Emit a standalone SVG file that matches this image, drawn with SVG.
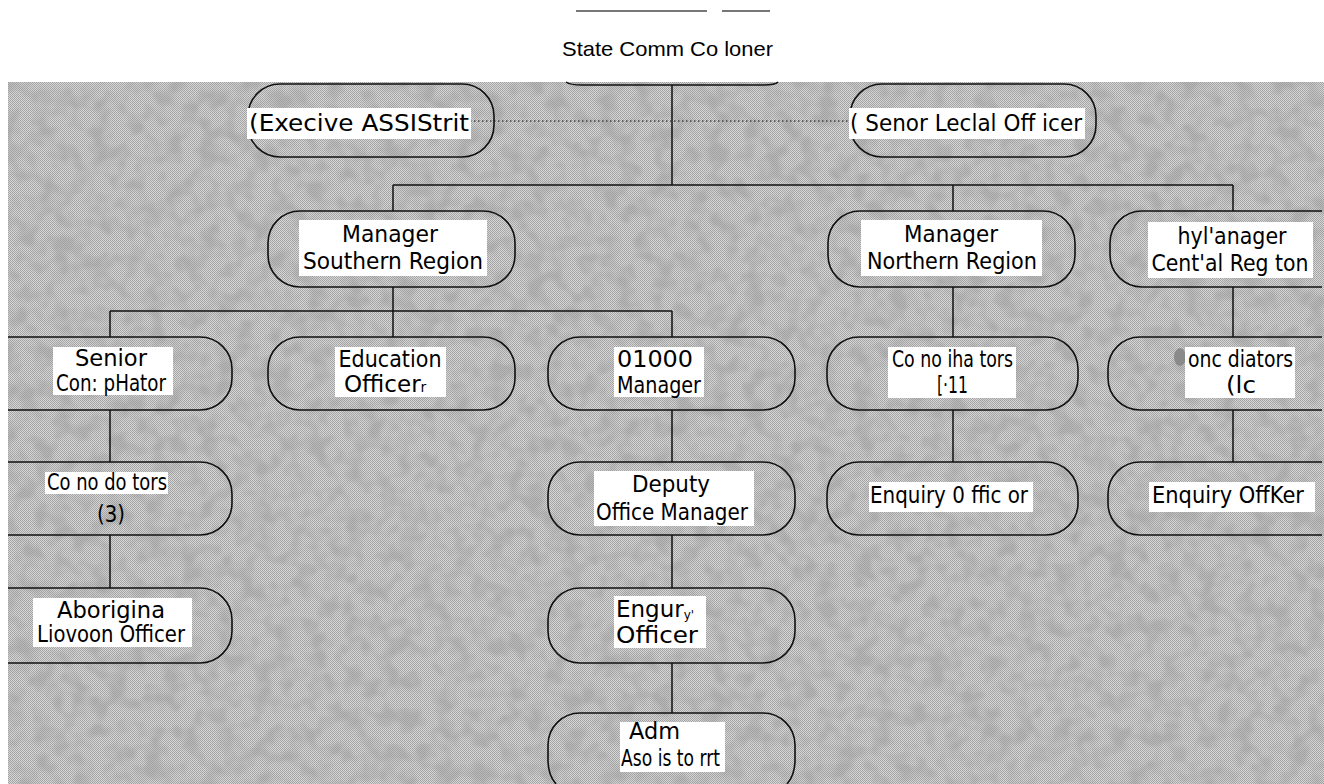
<svg xmlns="http://www.w3.org/2000/svg" width="1324" height="784" viewBox="0 0 1324 784">
<defs>
<style>
.t{font-family:"DejaVu Sans","Liberation Sans",sans-serif;font-size:23px;fill:#000}
.lab{fill:#fff}
.box{fill:none;stroke:#111;stroke-width:1.6}
.ln{fill:none;stroke:#111;stroke-width:1.5}
.dot{fill:none;stroke:#444;stroke-width:1.3;stroke-dasharray:1.5 2.5}
</style>
<pattern id="dither" width="2" height="2" patternUnits="userSpaceOnUse">
<rect width="2" height="2" fill="#d6d6d6"/>
<rect x="0" y="0" width="1" height="1" fill="#a2a2a2"/>
<rect x="1" y="1" width="1" height="1" fill="#a8a8a8"/>
</pattern>
<filter id="blot" x="0" y="0" width="100%" height="100%">
<feTurbulence type="fractalNoise" baseFrequency="0.055" numOctaves="2" seed="7"/>
<feColorMatrix type="matrix" values="0 0 0 0 0.35 0 0 0 0 0.35 0 0 0 0 0.35 3.2 0 0 0 -1.35"/>
</filter>
</defs>
<rect width="1324" height="784" fill="#fff"/>
<g id="background">
<rect x="8" y="82" width="1316" height="702" fill="url(#dither)"/>
<rect x="8" y="82" width="1316" height="702" filter="url(#blot)" opacity="0.55"/>
</g>
<g id="header">
<line x1="576" y1="11" x2="707" y2="11" stroke="#777" stroke-width="2"/>
<line x1="722" y1="11" x2="770" y2="11" stroke="#777" stroke-width="2"/>
</g>
<g id="state-commissioner">
<text x="562" y="56" font-family="Liberation Sans, sans-serif" font-size="21" textLength="211" lengthAdjust="spacingAndGlyphs">State Comm Co loner</text>
<path class="ln" d="M566,82 Q570,85 582,85 L764,85 Q775,85 778,82"/>
</g>
<g id="connectors">
<line class="ln" x1="672" y1="85" x2="672" y2="185"/>
<line class="dot" x1="470" y1="121" x2="850" y2="121"/>
<line class="ln" x1="393" y1="185" x2="1233" y2="185"/>
<line class="ln" x1="393" y1="185" x2="393" y2="211"/>
<line class="ln" x1="953" y1="185" x2="953" y2="211"/>
<line class="ln" x1="1233" y1="185" x2="1233" y2="211"/>
<line class="ln" x1="393" y1="287" x2="393" y2="337"/>
<line class="ln" x1="110" y1="311" x2="672" y2="311"/>
<line class="ln" x1="110" y1="311" x2="110" y2="337"/>
<line class="ln" x1="672" y1="311" x2="672" y2="337"/>
<line class="ln" x1="953" y1="287" x2="953" y2="337"/>
<line class="ln" x1="1233" y1="287" x2="1233" y2="337"/>
<line class="ln" x1="110" y1="410" x2="110" y2="462"/>
<line class="ln" x1="110" y1="535" x2="110" y2="588"/>
<line class="ln" x1="672" y1="410" x2="672" y2="462"/>
<line class="ln" x1="672" y1="535" x2="672" y2="588"/>
<line class="ln" x1="672" y1="663" x2="672" y2="713"/>
<line class="ln" x1="953" y1="410" x2="953" y2="462"/>
<line class="ln" x1="1233" y1="410" x2="1233" y2="462"/>
</g>
<g id="nodes">
<g id="executive-assistant">
<rect class="box" x="248" y="84" width="246" height="73" rx="32"/>
<rect class="lab" x="247" y="108" width="224" height="31"/>
<text class="t" x="249" y="131" font-size="22" textLength="220" lengthAdjust="spacingAndGlyphs">(Execive ASSIStrit</text>
</g>
<g id="senior-legal-officer">
<rect class="box" x="850" y="84" width="246" height="73" rx="32"/>
<rect class="lab" x="849" y="108" width="236" height="31"/>
<text class="t" x="850" y="131" font-size="22" textLength="232" lengthAdjust="spacingAndGlyphs">( Senor Leclal Off icer</text>
</g>
<g id="manager-southern">
<rect class="box" x="268" y="211" width="247" height="76" rx="32"/>
<rect class="lab" x="299" y="220" width="188" height="56"/>
<text class="t" x="390" y="242" text-anchor="middle" font-size="22" textLength="96" lengthAdjust="spacingAndGlyphs">Manager</text>
<text class="t" x="393" y="269" text-anchor="middle" font-size="25" textLength="180" lengthAdjust="spacingAndGlyphs">Southern Region</text>
</g>
<g id="manager-northern">
<rect class="box" x="828" y="211" width="247" height="76" rx="32"/>
<rect class="lab" x="861" y="220" width="181" height="56"/>
<text class="t" x="951" y="242" text-anchor="middle" font-size="22" textLength="94" lengthAdjust="spacingAndGlyphs">Manager</text>
<text class="t" x="952" y="269" text-anchor="middle" font-size="25" textLength="170" lengthAdjust="spacingAndGlyphs">Northern  Region</text>
</g>
<g id="manager-central">
<path class="box" d="M1322,211 H1142 A32,32 0 0 0 1110,243 V255 A32,32 0 0 0 1142,287 H1322"/>
<rect class="lab" x="1148" y="222" width="165" height="56"/>
<text class="t" x="1232" y="244" text-anchor="middle" font-size="22" textLength="109" lengthAdjust="spacingAndGlyphs">hyl'anager</text>
<text class="t" x="1230" y="271" text-anchor="middle" font-size="21" textLength="157" lengthAdjust="spacingAndGlyphs">Cent'al Reg ton</text>
</g>
<g id="senior-conciliator">
<path class="box" d="M8,337 H200 A32,32 0 0 1 232,369 V378 A32,32 0 0 1 200,410 H8"/>
<rect class="lab" x="53" y="347" width="120" height="48"/>
<text class="t" x="111" y="366" text-anchor="middle" font-size="22" textLength="72" lengthAdjust="spacingAndGlyphs">Senior</text>
<text class="t" x="111" y="391" text-anchor="middle" font-size="20" textLength="110" lengthAdjust="spacingAndGlyphs">Con: pHator</text>
</g>
<g id="education-officer">
<rect class="box" x="268" y="337" width="247" height="73" rx="32"/>
<rect class="lab" x="335" y="347" width="111" height="50"/>
<text class="t" x="390" y="367" text-anchor="middle" textLength="103" lengthAdjust="spacingAndGlyphs">Education</text>
<text class="t" x="344" y="392">Officer<tspan font-size="14">r</tspan></text>
</g>
<g id="office-manager">
<rect class="box" x="548" y="337" width="247" height="73" rx="32"/>
<rect class="lab" x="614" y="347" width="90" height="50"/>
<text class="t" x="617" y="367" textLength="76" lengthAdjust="spacingAndGlyphs">01000</text>
<text class="t" x="617" y="393" textLength="84" lengthAdjust="spacingAndGlyphs">Manager</text>
</g>
<g id="conciliators-north">
<rect class="box" x="827" y="337" width="251" height="73" rx="32"/>
<rect class="lab" x="888" y="347" width="128" height="51"/>
<text class="t" x="892" y="367" textLength="121" lengthAdjust="spacingAndGlyphs">Co no iha tors</text>
<text class="t" x="937" y="393" textLength="31" lengthAdjust="spacingAndGlyphs">[·11</text>
</g>
<g id="conciliators-central">
<path class="box" d="M1322,337 H1140 A32,32 0 0 0 1108,369 V378 A32,32 0 0 0 1140,410 H1322"/>
<ellipse cx="1180" cy="357" rx="6" ry="9" fill="#8a8a8a"/>
<rect class="lab" x="1185" y="347" width="110" height="51"/>
<text class="t" x="1188" y="367" textLength="105" lengthAdjust="spacingAndGlyphs">onc diators</text>
<text class="t" x="1226" y="393" textLength="30" lengthAdjust="spacingAndGlyphs">(lc</text>
</g>
<g id="conciliators-south">
<path class="box" d="M8,462 H200 A32,32 0 0 1 232,494 V503 A32,32 0 0 1 200,535 H8"/>
<rect class="lab" x="45" y="472" width="123" height="22"/>
<text class="t" x="47" y="490" font-size="21" textLength="120" lengthAdjust="spacingAndGlyphs">Co no do tors</text>
<text class="t" x="97" y="522" fill="#333" textLength="28" lengthAdjust="spacingAndGlyphs">(3)</text>
</g>
<g id="deputy-office-manager">
<rect class="box" x="548" y="462" width="247" height="73" rx="32"/>
<rect class="lab" x="594" y="471" width="160" height="55"/>
<text class="t" x="671" y="492" text-anchor="middle" font-size="22" textLength="78" lengthAdjust="spacingAndGlyphs">Deputy</text>
<text class="t" x="672" y="520" text-anchor="middle" font-size="24" textLength="152" lengthAdjust="spacingAndGlyphs">Office Manager</text>
</g>
<g id="enquiry-officer-north">
<rect class="box" x="827" y="462" width="251" height="73" rx="32"/>
<rect class="lab" x="869" y="482" width="164" height="30"/>
<text class="t" x="870" y="503" font-size="22" textLength="158" lengthAdjust="spacingAndGlyphs">Enquiry 0 ffic or</text>
</g>
<g id="enquiry-officer-central">
<path class="box" d="M1322,462 H1140 A32,32 0 0 0 1108,494 V503 A32,32 0 0 0 1140,535 H1322"/>
<rect class="lab" x="1149" y="482" width="166" height="30"/>
<text class="t" x="1152" y="503" font-size="22" textLength="152" lengthAdjust="spacingAndGlyphs">Enquiry OffKer</text>
</g>
<g id="aboriginal-liaison-officer">
<path class="box" d="M8,588 H200 A32,32 0 0 1 232,620 V631 A32,32 0 0 1 200,663 H8"/>
<rect class="lab" x="33" y="598" width="159" height="49"/>
<text class="t" x="57" y="618" font-size="22" textLength="108" lengthAdjust="spacingAndGlyphs">Aborigina</text>
<text class="t" x="37" y="642" textLength="148" lengthAdjust="spacingAndGlyphs">Liovoon Officer</text>
</g>
<g id="enquiry-officer-south">
<rect class="box" x="548" y="588" width="247" height="75" rx="32"/>
<rect class="lab" x="614" y="596" width="92" height="52"/>
<text class="t" x="616" y="617" font-size="22">Engur<tspan font-size="12" dy="2">y'</tspan></text>
<text class="t" x="616" y="643" textLength="82" lengthAdjust="spacingAndGlyphs">Officer</text>
</g>
<g id="admin-assistant">
<path class="box" d="M556,784 Q548,775 548,760 V745 A32,32 0 0 1 580,713 H763 A32,32 0 0 1 795,745 V760 Q795,775 787,784"/>
<rect class="lab" x="620" y="722" width="105" height="50"/>
<text class="t" x="629" y="739" font-size="18" textLength="51" lengthAdjust="spacingAndGlyphs">Adm</text>
<text class="t" x="621" y="766" font-size="19" textLength="99" lengthAdjust="spacingAndGlyphs">Aso is to rrt</text>
</g>
</g>
</svg>
